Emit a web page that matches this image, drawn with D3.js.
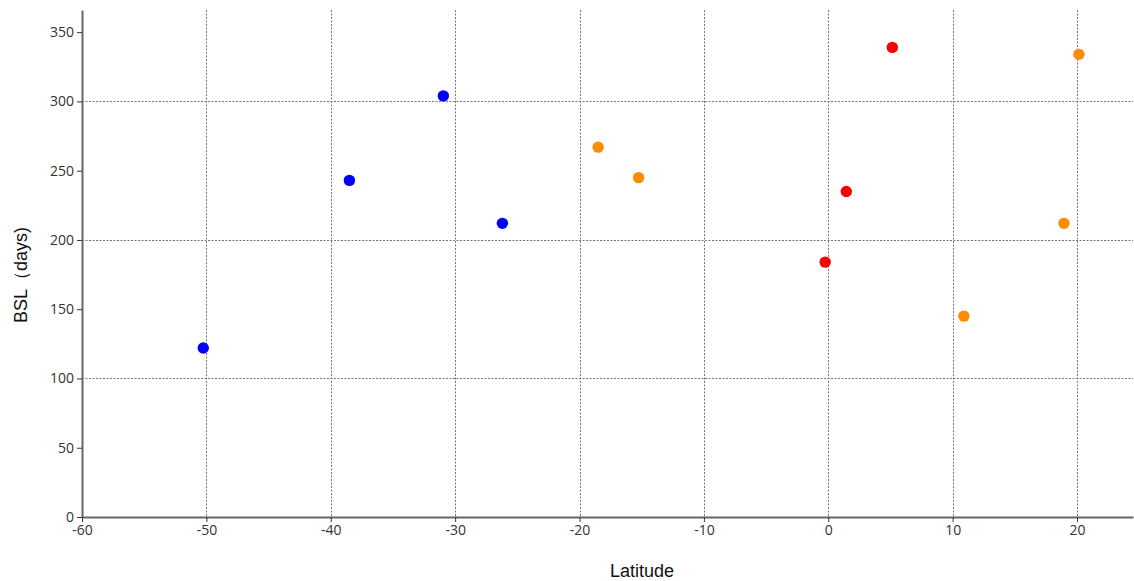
<!DOCTYPE html>
<html>
<head>
<meta charset="utf-8">
<script src="https://cdn.jsdelivr.net/npm/d3@7"></script>
<style>
  html, body { margin: 0; padding: 0; background: #fff; }
  svg { display: block; }
  .tick text { font-family: "Open Sans", "Noto Sans", sans-serif; font-size: 14px; fill: #333; }
  .axis-title { font-family: "Liberation Sans", Arial, sans-serif; font-size: 18px; fill: #111; }
</style>
</head>
<body>
<svg id="chart" width="1134" height="581"></svg>
<script>
// Latitude (degrees) vs. breeding season length (days), three groups
const southLat = [-50.25, -38.5, -30.95, -26.2];
const southBSL = [122, 243, 304, 212];

const equatorLat = [5.15, 1.45, -0.25];
const equatorBSL = [339, 235, 184];

const northLat = [20.15, 18.95, 10.9, -18.5, -15.25];
const northBSL = [334, 212, 145, 267, 245];

const groupColors = ["#0000ff", "#ff0000", "#ff8c00"];

const xTicks = [-60, -50, -40, -30, -20, -10, 0, 10, 20];
const yTicks = [0, 50, 100, 150, 200, 250, 300, 350];
const yGridTicks = [100, 200, 300];

const groups = [
  { lat: southLat, bsl: southBSL, color: groupColors[0] },
  { lat: equatorLat, bsl: equatorBSL, color: groupColors[1] },
  { lat: northLat, bsl: northBSL, color: groupColors[2] }
];

const svg = d3.select("#chart");
const margin = { left: 82, right: 1, top: 10, bottom: 64 };
const W = 1134, H = 581;

const x = d3.scaleLinear().domain([-60, 24.5]).range([margin.left, W - margin.right]);
const y = d3.scaleLinear().domain([0, 366]).range([H - margin.bottom, margin.top]);

// plain hyphen for negatives
const fmt = d => String(d);

// dashed grid
const grid = svg.append("g").attr("stroke", "#777").attr("stroke-width", 1)
  .attr("stroke-dasharray", "2,1.5");
grid.selectAll("line.vx").data(xTicks.filter(t => t !== -60)).join("line")
  .attr("x1", d => Math.round(x(d)) + 0.5).attr("x2", d => Math.round(x(d)) + 0.5)
  .attr("y1", y.range()[1]).attr("y2", y(0));
grid.selectAll("line.hy").data(yGridTicks).join("line")
  .attr("x1", x(-60)).attr("x2", W - margin.right)
  .attr("y1", d => Math.round(y(d)) + 0.5).attr("y2", d => Math.round(y(d)) + 0.5);

// axes
const xAxis = svg.append("g")
  .attr("transform", `translate(0,${y(0)})`)
  .call(d3.axisBottom(x).tickValues(xTicks).tickSizeInner(5).tickSizeOuter(0).tickPadding(3).tickFormat(fmt));
const yAxis = svg.append("g")
  .attr("transform", `translate(${x(-60)},0)`)
  .call(d3.axisLeft(y).tickValues(yTicks).tickSizeInner(5).tickSizeOuter(0).tickPadding(3).tickFormat(fmt));

[xAxis, yAxis].forEach(g => {
  g.select(".domain").attr("stroke", "#666").attr("stroke-width", 2);
  g.selectAll(".tick line").attr("stroke", "#333");
});

// points
groups.forEach(gr => {
  svg.append("g").selectAll("circle")
    .data(gr.lat.map((v, i) => [v, gr.bsl[i]]))
    .join("circle")
    .attr("cx", d => x(d[0]))
    .attr("cy", d => y(d[1]))
    .attr("r", 5.7)
    .attr("fill", gr.color);
});

// axis titles
svg.append("text").attr("class", "axis-title")
  .attr("x", 642).attr("y", 577).attr("text-anchor", "middle")
  .text("Latitude");
svg.append("text").attr("class", "axis-title")
  .attr("transform", "translate(27,275) rotate(-90)")
  .attr("text-anchor", "middle")
  .text("BSL（days)");
</script>
</body>
</html>
